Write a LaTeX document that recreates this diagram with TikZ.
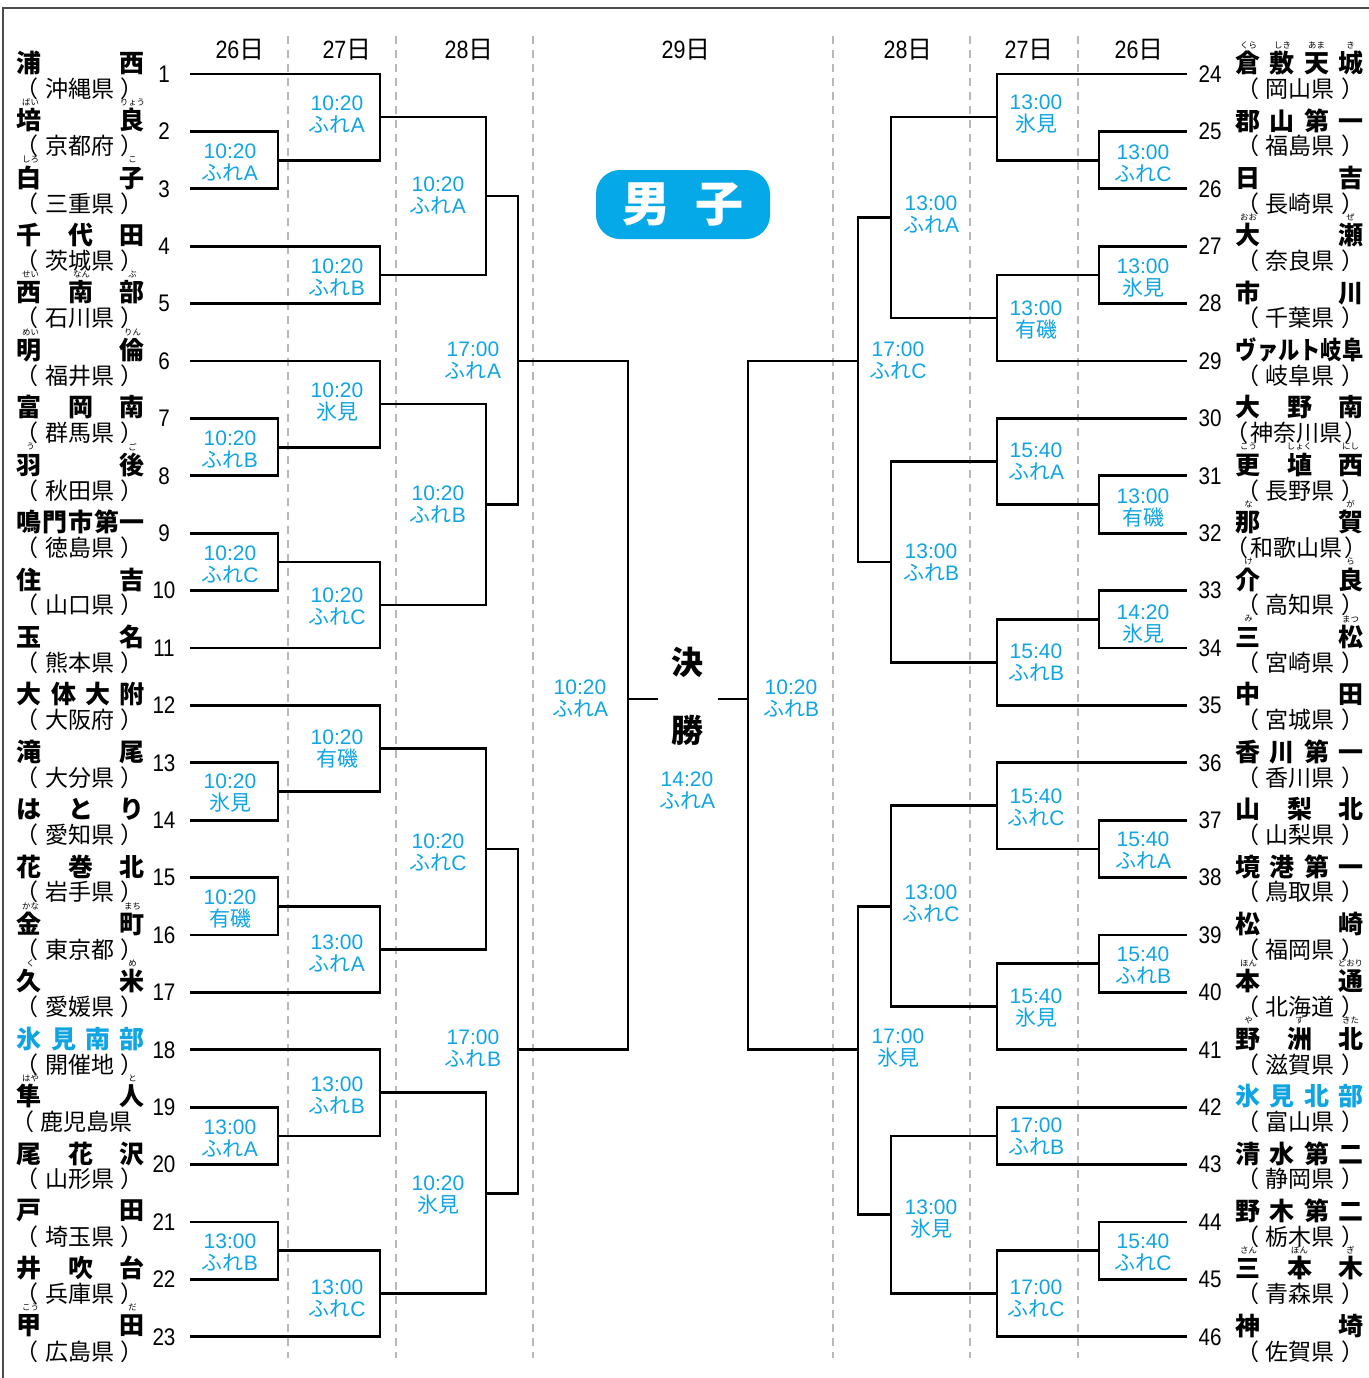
\documentclass[tikz,border=0pt]{standalone}
\usepackage{graphicx}
\usepackage{fontspec}
\setmainfont{Liberation Sans}
\newfontfamily\jp{Noto Sans CJK JP}
\definecolor{hiblue}{HTML}{10A4E2}
\definecolor{badgeblue}{HTML}{06A9E8}
\newcommand\plF[1]{{\jp ふれ}#1}
\newcommand\plH{{\jp 氷見}}
\newcommand\plA{{\jp 有磯}}
\newcommand\pf[2][52pt]{\makebox[#1]{\hspace{-6pt}（\hfill #2\hfill ）\hspace{-6pt}}}
\newcommand\tmL[5]{%
  \node[namest,text=#5] (nm#1) at (81,#2-11) {\makebox[64pt]{#3}};
  \node[prefst] (pf#1) at (80,#2+14.5) {#4};
  \node[numst] (sd#1) at (164,#2) {\scalebox{0.86}[1]{#1}};}
\newcommand\tmR[5]{%
  \node[namest,text=#5] (nm#1) at (1299.5,#2-11) {\makebox[64pt]{#3}};
  \node[prefst] (pf#1) at (1300,#2+14.5) {#4};
  \node[numst] (sd#1) at (1210,#2) {\scalebox{0.86}[1]{#1}};}
\newcommand\rb[4]{\node[rubyst] (rb#1) at (#2,#3-29) {#4};}
\newcommand\tl[5]{\node[timest] (tl#1) at (#2,#3+1.5) {#4\\#5};}
\newcommand\br[5]{\draw[brline] (#3,#2) -- (#1,#2) -- (#1,#4) -- (#5,#4);}
\newcommand\dayh[3]{\node[dayst] (d#1) at (#2,50) {\scalebox{0.86}[1]{#3}{\jp 日}};}
\begin{document}
\begin{tikzpicture}[x=0.5pt,y=-0.5pt,
  brline/.style={line width=1.4pt, black, line join=miter},
  dashln/.style={draw=black!28, line width=1pt, dash pattern=on 4pt off 3pt},
  namest/.style={inner sep=0pt, font=\jp\bfseries\fontsize{12.5}{13}\selectfont},
  prefst/.style={inner sep=0pt, font=\jp\fontsize{11.5}{12}\selectfont},
  rubyst/.style={inner sep=0pt, font=\jp\fontsize{4.2}{4.5}\selectfont},
  numst/.style={inner sep=0pt, font=\fontsize{12}{12}\selectfont},
  dayst/.style={inner sep=0pt, font=\fontsize{12.5}{13}\selectfont},
  timest/.style={inner sep=0pt, align=center, text=hiblue, font=\fontsize{10.5}{11}\selectfont},
]
\useasboundingbox (0,0) rectangle (1369,1378);
% frame
\draw[black!70, line width=1pt] (3,1380) -- (3,8) -- (1372,8);
% dashed column separators
\foreach \xx in {288,396,533,833,970,1078} \draw[dashln] (\xx,36) -- (\xx,1358);
% headers
\dayh{a}{240}{26}
\dayh{b}{347}{27}
\dayh{c}{469}{28}
\dayh{d}{686}{29}
\dayh{e}{908}{28}
\dayh{f}{1029}{27}
\dayh{g}{1139}{26}
% title badge
\node[fill=badgeblue, rounded corners=12pt, minimum width=87pt, minimum height=34.5pt, inner sep=0pt,
  text=white, font=\jp\bfseries\fontsize{24}{24}\selectfont] (title) at (683,204.5) {男\hspace{13pt}子};
% final labels
\node[inner sep=0pt, font=\jp\bfseries\fontsize{16}{16}\selectfont] (ketsu) at (687,662) {決};
\node[inner sep=0pt, font=\jp\bfseries\fontsize{16}{16}\selectfont] (sho) at (687,730) {勝};

% ---------- left teams ----------
\tmL{1}{74}{浦\hfill 西}{\pf{沖縄県}}{black}
\tmL{2}{131.4}{培\hfill 良}{\pf{京都府}}{black}
\tmL{3}{188.8}{白\hfill 子}{\pf{三重県}}{black}
\tmL{4}{246.2}{千\hfill 代\hfill 田}{\pf{茨城県}}{black}
\tmL{5}{303.6}{西\hfill 南\hfill 部}{\pf{石川県}}{black}
\tmL{6}{361}{明\hfill 倫}{\pf{福井県}}{black}
\tmL{7}{418.4}{富\hfill 岡\hfill 南}{\pf{群馬県}}{black}
\tmL{8}{475.8}{羽\hfill 後}{\pf{秋田県}}{black}
\tmL{9}{533.2}{鳴\hfill 門\hfill 市\hfill 第\hfill 一}{\pf{徳島県}}{black}
\tmL{10}{590.6}{住\hfill 吉}{\pf{山口県}}{black}
\tmL{11}{648}{玉\hfill 名}{\pf{熊本県}}{black}
\tmL{12}{705.4}{大\hfill 体\hfill 大\hfill 附}{\pf{大阪府}}{black}
\tmL{13}{762.8}{滝\hfill 尾}{\pf{大分県}}{black}
\tmL{14}{820.2}{は\hfill と\hfill り}{\pf{愛知県}}{black}
\tmL{15}{877.6}{花\hfill 巻\hfill 北}{\pf{岩手県}}{black}
\tmL{16}{935}{金\hfill 町}{\pf{東京都}}{black}
\tmL{17}{992.4}{久\hfill 米}{\pf{愛媛県}}{black}
\tmL{18}{1049.8}{氷\hfill 見\hfill 南\hfill 部}{\pf{開催地}}{hiblue}
\node[namest] (nm19) at (81,1107.2-11) {\makebox[64pt]{隼\hfill 人}};
\node[prefst, anchor=west] (pf19) at (11,1107.2+14.5) {（\hspace{3pt}鹿児島県};
\node[numst] (sd19) at (164,1107.2) {\scalebox{0.86}[1]{19}};
\tmL{20}{1164.6}{尾\hfill 花\hfill 沢}{\pf{山形県}}{black}
\tmL{21}{1222}{戸\hfill 田}{\pf{埼玉県}}{black}
\tmL{22}{1279.4}{井\hfill 吹\hfill 台}{\pf{兵庫県}}{black}
\tmL{23}{1336.8}{甲\hfill 田}{\pf{広島県}}{black}
% left ruby
\rb{2a}{30.5}{131.4}{ばい}\rb{2b}{132.5}{131.4}{りょう}
\rb{3a}{30.5}{188.8}{しろ}\rb{3b}{132.5}{188.8}{こ}
\rb{5a}{30.5}{303.6}{せい}\rb{5b}{81.5}{303.6}{なん}\rb{5c}{132.5}{303.6}{ぶ}
\rb{6a}{30.5}{361}{めい}\rb{6b}{132.5}{361}{りん}
\rb{8a}{30.5}{475.8}{う}\rb{8b}{132.5}{475.8}{ご}
\rb{16a}{30.5}{935}{かな}\rb{16b}{132.5}{935}{まち}
\rb{17a}{30.5}{992.4}{く}\rb{17b}{132.5}{992.4}{め}
\rb{19a}{30.5}{1107.2}{はや}\rb{19b}{132.5}{1107.2}{と}
\rb{23a}{30.5}{1336.8}{こう}\rb{23b}{132.5}{1336.8}{だ}

% ---------- right teams ----------
\tmR{24}{74}{倉\hfill 敷\hfill 天\hfill 城}{\pf{岡山県}}{black}
\tmR{25}{131.4}{郡\hfill 山\hfill 第\hfill 一}{\pf{福島県}}{black}
\tmR{26}{188.8}{日\hfill 吉}{\pf{長崎県}}{black}
\tmR{27}{246.2}{大\hfill 瀬}{\pf{奈良県}}{black}
\tmR{28}{303.6}{市\hfill 川}{\pf{千葉県}}{black}
\tmR{29}{361}{\scalebox{0.85}[1]{ヴァルト岐阜}}{\pf{岐阜県}}{black}
\node[namest] (nm30) at (1299.5,418.4-11) {\makebox[64pt]{大\hfill 野\hfill 南}};
\node[prefst] (pf30) at (1296.5,418.4+14.5) {\pf[59pt]{神奈川県}};
\node[numst] (sd30) at (1210,418.4) {\scalebox{0.86}[1]{30}};
\tmR{31}{475.8}{更\hfill 埴\hfill 西}{\pf{長野県}}{black}
\node[namest] (nm32) at (1299.5,533.2-11) {\makebox[64pt]{那\hfill 賀}};
\node[prefst] (pf32) at (1296.5,533.2+14.5) {\pf[59pt]{和歌山県}};
\node[numst] (sd32) at (1210,533.2) {\scalebox{0.86}[1]{32}};
\tmR{33}{590.6}{介\hfill 良}{\pf{高知県}}{black}
\tmR{34}{648}{三\hfill 松}{\pf{宮崎県}}{black}
\tmR{35}{705.4}{中\hfill 田}{\pf{宮城県}}{black}
\tmR{36}{762.8}{香\hfill 川\hfill 第\hfill 一}{\pf{香川県}}{black}
\tmR{37}{820.2}{山\hfill 梨\hfill 北}{\pf{山梨県}}{black}
\tmR{38}{877.6}{境\hfill 港\hfill 第\hfill 一}{\pf{鳥取県}}{black}
\tmR{39}{935}{松\hfill 崎}{\pf{福岡県}}{black}
\tmR{40}{992.4}{本\hfill 通}{\pf{北海道}}{black}
\tmR{41}{1049.8}{野\hfill 洲\hfill 北}{\pf{滋賀県}}{black}
\tmR{42}{1107.2}{氷\hfill 見\hfill 北\hfill 部}{\pf{富山県}}{hiblue}
\tmR{43}{1164.6}{清\hfill 水\hfill 第\hfill 二}{\pf{静岡県}}{black}
\tmR{44}{1222}{野\hfill 木\hfill 第\hfill 二}{\pf{栃木県}}{black}
\tmR{45}{1279.4}{三\hfill 本\hfill 木}{\pf{青森県}}{black}
\tmR{46}{1336.8}{神\hfill 埼}{\pf{佐賀県}}{black}
% right ruby
\rb{24a}{1248.5}{74}{くら}\rb{24b}{1282.5}{74}{しき}\rb{24c}{1316.5}{74}{あま}\rb{24d}{1350.5}{74}{き}
\rb{27a}{1248.5}{246.2}{おお}\rb{27b}{1350.5}{246.2}{ぜ}
\rb{31a}{1248.5}{475.8}{こう}\rb{31b}{1299.5}{475.8}{しょく}\rb{31c}{1350.5}{475.8}{にし}
\rb{32a}{1248.5}{533.2}{な}\rb{32b}{1350.5}{533.2}{が}
\rb{33a}{1248.5}{590.6}{け}\rb{33b}{1350.5}{590.6}{ら}
\rb{34a}{1248.5}{648}{み}\rb{34b}{1350.5}{648}{まつ}
\rb{40a}{1248.5}{992.4}{ほん}\rb{40b}{1350.5}{992.4}{どおり}
\rb{41a}{1248.5}{1049.8}{や}\rb{41b}{1299.5}{1049.8}{す}\rb{41c}{1350.5}{1049.8}{きた}
\rb{45a}{1248.5}{1279.4}{さん}\rb{45b}{1299.5}{1279.4}{ぼん}\rb{45c}{1350.5}{1279.4}{ぎ}

% ---------- left bracket ----------
\br{278}{131.4}{190}{188.8}{190}
\br{278}{418.4}{190}{475.8}{190}
\br{278}{533.2}{190}{590.6}{190}
\br{278}{762.8}{190}{820.2}{190}
\br{278}{877.6}{190}{935}{190}
\br{278}{1107.2}{190}{1164.6}{190}
\br{278}{1222}{190}{1279.4}{190}
\br{380}{74}{190}{160.1}{278}
\br{380}{246.2}{190}{303.6}{190}
\br{380}{361}{190}{447.1}{278}
\br{380}{561.9}{278}{648}{190}
\br{380}{705.4}{190}{791.5}{278}
\br{380}{906.3}{278}{992.4}{190}
\br{380}{1049.8}{190}{1135.9}{278}
\br{380}{1250.7}{278}{1336.8}{190}
\br{486}{117.05}{380}{274.9}{380}
\br{486}{404.05}{380}{604.95}{380}
\br{486}{748.45}{380}{949.35}{380}
\br{486}{1092.85}{380}{1293.75}{380}
\br{518}{195.98}{486}{504.5}{486}
\br{518}{848.9}{486}{1193.3}{486}
\br{628}{361}{518}{1049.8}{518}
\draw[brline] (628,699) -- (658,699);
% ---------- right bracket ----------
\br{1099}{131.4}{1187}{188.8}{1187}
\br{1099}{246.2}{1187}{303.6}{1187}
\br{1099}{475.8}{1187}{533.2}{1187}
\br{1099}{590.6}{1187}{648}{1187}
\br{1099}{820.2}{1187}{877.6}{1187}
\br{1099}{935}{1187}{992.4}{1187}
\br{1099}{1222}{1187}{1279.4}{1187}
\br{997}{74}{1187}{160.1}{1099}
\br{997}{274.9}{1099}{361}{1187}
\br{997}{418.4}{1187}{504.5}{1099}
\br{997}{619.3}{1099}{705.4}{1187}
\br{997}{762.8}{1187}{848.9}{1099}
\br{997}{963.7}{1099}{1049.8}{1187}
\br{997}{1107.2}{1187}{1164.6}{1187}
\br{997}{1250.7}{1099}{1336.8}{1187}
\br{891}{117.05}{997}{317.95}{997}
\br{891}{461.45}{997}{662.35}{997}
\br{891}{805.85}{997}{1006.75}{997}
\br{891}{1135.9}{997}{1293.75}{997}
\br{858}{217.5}{891}{561.9}{891}
\br{858}{906.3}{891}{1214.8}{891}
\br{748}{361}{858}{1049.8}{858}
\draw[brline] (748,699) -- (718,699);

% ---------- time labels left ----------
\tl{L1a}{230}{161}{10:20}{\plF{A}}
\tl{L1b}{230}{448}{10:20}{\plF{B}}
\tl{L1c}{230}{563}{10:20}{\plF{C}}
\tl{L1d}{230}{792}{10:20}{\plH}
\tl{L1e}{230}{907}{10:20}{\plA}
\tl{L1f}{230}{1137}{13:00}{\plF{A}}
\tl{L1g}{230}{1251}{13:00}{\plF{B}}
\tl{L2a}{337}{113}{10:20}{\plF{A}}
\tl{L2b}{337}{276}{10:20}{\plF{B}}
\tl{L2c}{337}{401}{10:20}{\plH}
\tl{L2d}{337}{605}{10:20}{\plF{C}}
\tl{L2e}{337}{747}{10:20}{\plA}
\tl{L2f}{337}{952}{13:00}{\plF{A}}
\tl{L2g}{337}{1094}{13:00}{\plF{B}}
\tl{L2h}{337}{1297}{13:00}{\plF{C}}
\tl{L3a}{438}{194}{10:20}{\plF{A}}
\tl{L3b}{438}{503}{10:20}{\plF{B}}
\tl{L3c}{438}{851}{10:20}{\plF{C}}
\tl{L3d}{438}{1194}{10:20}{\plH}
\tl{L4a}{473}{359}{17:00}{\plF{A}}
\tl{L4b}{473}{1047}{17:00}{\plF{B}}
\tl{SL}{580}{697}{10:20}{\plF{A}}
\tl{FN}{687}{789}{14:20}{\plF{A}}
% ---------- time labels right ----------
\tl{R1a}{1143}{162}{13:00}{\plF{C}}
\tl{R1b}{1143}{277}{13:00}{\plH}
\tl{R1c}{1143}{506}{13:00}{\plA}
\tl{R1d}{1143}{623}{14:20}{\plH}
\tl{R1e}{1143}{849}{15:40}{\plF{A}}
\tl{R1f}{1143}{964}{15:40}{\plF{B}}
\tl{R1g}{1143}{1251}{15:40}{\plF{C}}
\tl{R2a}{1036}{113}{13:00}{\plH}
\tl{R2b}{1036}{318}{13:00}{\plA}
\tl{R2c}{1036}{460}{15:40}{\plF{A}}
\tl{R2d}{1036}{661}{15:40}{\plF{B}}
\tl{R2e}{1036}{806}{15:40}{\plF{C}}
\tl{R2f}{1036}{1007}{15:40}{\plH}
\tl{R2g}{1036}{1135}{17:00}{\plF{B}}
\tl{R2h}{1036}{1297}{17:00}{\plF{C}}
\tl{R3a}{931}{213}{13:00}{\plF{A}}
\tl{R3b}{931}{561}{13:00}{\plF{B}}
\tl{R3c}{931}{902}{13:00}{\plF{C}}
\tl{R3d}{931}{1218}{13:00}{\plH}
\tl{R4a}{898}{359}{17:00}{\plF{C}}
\tl{R4b}{898}{1047}{17:00}{\plH}
\tl{SR}{791}{697}{10:20}{\plF{B}}
\end{tikzpicture}
\end{document}
